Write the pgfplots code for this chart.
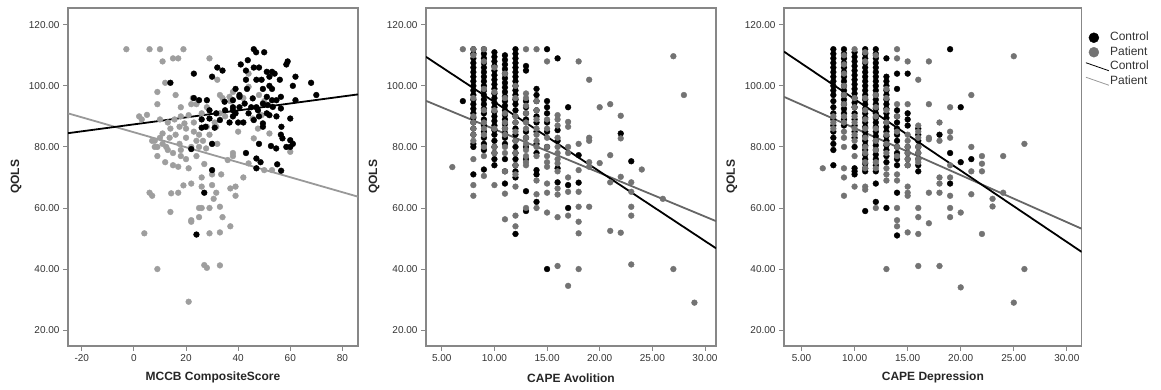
\documentclass[border=0pt]{standalone}
\usepackage{fontspec}
\setmainfont{Liberation Sans}
\usepackage{pgfplots}
\pgfplotsset{compat=1.18}
\definecolor{frame}{HTML}{878787}
\definecolor{ctl}{HTML}{000000}
\definecolor{patA}{HTML}{9E9E9E}
\definecolor{patB}{HTML}{737373}
\definecolor{lineA}{HTML}{999999}
\definecolor{lineB}{HTML}{666666}
\definecolor{tlab}{HTML}{333333}
\pgfplotsset{
  panel/.style={
    scale only axis, height=338pt,
    ymin=14.8, ymax=125.5,
    axis line style={draw=frame, line width=1.3pt},
    tick style={draw=frame, line width=0.9pt},
    tick align=outside, major tick length=5pt,
    xtick pos=bottom, ytick pos=left,
    ytick={20,40,60,80,100,120},
    yticklabels={20.00,40.00,60.00,80.00,100.00,120.00},
    ticklabel style={font=\fontsize{10}{12}\selectfont, text=tlab},
    ylabel={QOLS},
    label style={font=\bfseries\fontsize{12}{14}\selectfont, text=black!85},
    xlabel style={at={(axis description cs:0.5,-0.094)}, anchor=center},
    clip=true,
  },
  ctlmarks/.style={only marks, mark=*, mark size=2.9pt, color=ctl, mark options={solid, draw=ctl, fill=ctl, line width=0.4pt}},
  patAmarks/.style={only marks, mark=*, mark size=2.9pt, color=patA, mark options={solid, draw=patA, fill=patA, line width=0.4pt}},
  patBmarks/.style={only marks, mark=*, mark size=2.9pt, color=patB, mark options={solid, draw=patB, fill=patB, line width=0.4pt}},
}
\begin{document}
\begin{tikzpicture}
\useasboundingbox (0,0) rectangle (1161pt,390pt);
% ---------------- Panel 1 ----------------
\begin{axis}[panel, at={(68pt,44pt)}, anchor=south west, width=290pt,
  xmin=-25.3, xmax=86,
  xtick={-20,0,20,40,60,80}, xticklabels={-20,0,20,40,60,80},
  xlabel={MCCB CompositeScore},
  ylabel style={at={(axis description cs:-0.179,0.5)}, anchor=center}]
\addplot[patAmarks] coordinates {
(-2.9,112) (6,112) (10,112) (15,109) (17,109) (19,112) (11,108) (12,101) (29,109) (9,98) (9,94) (16,97) (18,93) (2,90) (3,89) (5,90.5) (10,89) (13,88) (15.6,89) (22,94) (24,94) (26,91) (28,93) (32,102) (33,97) (17.5,86.6) (19.4,87.7) (21,90.4) (23,85) (25,84) (28,86.6) (31.6,86.6) (7,82) (8,80) (10,83) (11,81) (12.4,80) (13.7,83) (15,78) (17.5,81) (18,79) (20,83) (22,80) (24,82) (26.5,82) (30,81) (32,81) (9,77) (12,75) (15,74) (17,73.5) (18,77) (21,73) (27,74.4) (30,71) (33.5,71) (36,75.7) (38,77) (42,70) (44,74.6) (46,82.8) (37,66.4) (39,67) (39,64) (26,70) (26,67) (30,67.5) (31.6,65) (30.6,63) (14.3,64.8) (17,65) (19,67.4) (22,68) (25,60) (26,60) (29,60) (33,60.4) (34,57) (25,57) (22,55.5) (22,56) (14,58.7) (37,54) (33,52) (29,51.7) (4,51.7) (6,65) (7,64) (9,40) (27,41.3) (28,40.4) (33,41.2) (21,29.3) (47.6,86) (45.6,89.3) (50,95) (52,84.4) (60,78.4) (53,72.4) (50,72.4) (44,104) (44,99.7) (33,91) (37,95) (22.6,96) (38,78) (27.7,79.5) (11,84.4) (9,80) (36.7,96.4) (49,90.4) (8,82) (14,86) (16,84) (20,86) (23,88) (18,90) (13,79) (20,76) (24,77) (25,80) (29,84) (31,88) (35,90) (40,85) (42,96) (48,97) (38,98) (34,96)
};
\addplot[ctlmarks] coordinates {
(23,104) (14,101) (23,96) (25,95.3) (28,95.3) (26,89) (27.5,86.6) (26,86.3) (29,92) (30,103) (32,106) (34,105) (30,81) (30,72.4) (27,65) (24,51.3) (22,79.3) (35,92) (36.7,88) (38,92) (39,99) (40.5,96.4) (41,107) (43.7,108.4) (43,105) (43,102) (43.4,99) (46,112) (46.9,111) (46,106) (48,106) (50,111) (47,102) (49,102) (49.5,99) (51,104.6) (53,104.6) (54,104) (52,103) (56,102) (58.5,107) (59,108) (62,103) (61,100) (68,101) (70,97) (62,95.3) (60,89.3) (56.4,96.4) (54.7,95.3) (53,99) (51,96.4) (56.4,92.6) (53.3,93.1) (51.4,93.7) (49.5,94.2) (47,93) (45,93) (42.5,94.2) (40.5,93) (38,93) (39,91) (42,88) (40,88) (38,90) (44,91) (46,88.8) (48,90) (51,91) (49.5,86.6) (49.5,87.7) (52,90.4) (54.7,90) (56.4,84) (56.6,86.6) (57,82.8) (58.5,80) (60,82.2) (61,81) (60,80) (54.6,79.5) (52.6,80.3) (48,81) (43,78) (47,76.2) (48.6,75) (47,73) (55,74.3) (56.5,72.2) (29,89.3) (31.6,91) (33,88.8) (31,86.3) (34.8,94.8) (38,95.3) (40.5,97) (45.6,95.9) (52,100) (47.6,92) (53,95.3)
};
\addplot[lineA, line width=1.8pt] coordinates {(-25.3,91.0) (86,63.7)};
\addplot[ctl, line width=1.8pt] coordinates {(-25.3,84.5) (86,97.2)};
\end{axis}
% ---------------- Panel 2 ----------------
\begin{axis}[panel, at={(426pt,44pt)}, anchor=south west, width=290pt,
  xmin=3.5, xmax=31.05,
  xtick={5,10,15,20,25,30}, xticklabels={5.00,10.00,15.00,20.00,25.00,30.00},
  xlabel={CAPE Avolition},
  ylabel style={at={(axis description cs:-0.179,0.5)}, anchor=center}]
\addplot[ctlmarks] coordinates {
(7,95)
(8,112) (8,110.5) (8,109) (8,107.5) (8,106) (8,104.5) (8,103) (8,101.5) (8,100) (8,98.5) (8,97) (8,95.5) (8,94) (8,92.5) (8,91) (8,89.5) (8,88) (8,86) (8,84) (8,81) (8,80) (8,71)
(9,112) (9,110.5) (9,109) (9,107.5) (9,106) (9,104.5) (9,103) (9,101.5) (9,100) (9,98.5) (9,97) (9,95.5) (9,94) (9,92.5) (9,91) (9,89) (9,87) (9,85) (9,83) (9,81) (9,79) (9,72.6)
(10,111) (10,109.5) (10,108) (10,106.5) (10,105) (10,103.5) (10,102) (10,100.5) (10,99) (10,97.5) (10,96) (10,94.5) (10,93) (10,91.5) (10,90) (10,88.5) (10,87) (10,85.5) (10,84) (10,82) (10,80) (10,78) (10,76) (10,74)
(11,110) (11,108.5) (11,107) (11,105.5) (11,104) (11,102.5) (11,101) (11,99.5) (11,98) (11,96.5) (11,95) (11,93.5) (11,92) (11,90.5) (11,89) (11,87.5) (11,86) (11,84.5) (11,83) (11,81) (11,76) (11,72) (11,68)
(12,112) (12,110.5) (12,109) (12,107.5) (12,106) (12,104.5) (12,103) (12,101.5) (12,100) (12,98.5) (12,97) (12,95.5) (12,94) (12,92) (12,90) (12,88) (12,86) (12,84) (12,82) (12,80) (12,78) (12,76) (12,74) (12,72) (12,70) (12,51.5)
(13,106.5) (13,105) (13,95) (13,93) (13,91) (13,89) (13,85) (13,83) (13,80) (13,76) (13,65.5) (13,59)
(14,99) (14,97) (14,95) (14,92) (14,90) (14,88) (14,85) (14,81) (14,78) (14,72.4) (14,71) (14,62)
(15,112) (15,95) (15,93) (15,91) (15,88) (15,85) (15,80) (15,40)
(16,109) (16,85.5) (16,82) (16,73) (16,68.4)
(17,93) (17,67.5) (17,60)
(18,77.3) (18,68.3)
(22,84.4) (23,75.3)
};
\addplot[patBmarks] coordinates {
(6,73.4) (7,112)
(8,112) (8,110) (8,96) (8,90) (8,88) (8,86) (8,84) (8,82) (8,76) (8,67.5) (8,64)
(9,112) (9,108) (9,99) (9,92) (9,88) (9,86) (9,84) (9,80) (9,77) (9,70.5)
(10,106) (10,98) (10,92) (10,86) (10,80) (10,78) (10,67.5)
(11,104) (11,96) (11,91) (11,88) (11,86) (11,84) (11,80) (11,78) (11,72) (11,64.7) (11,56.3)
(12,100) (12,96) (12,90) (12,88) (12,85) (12,82) (12,78) (12,74) (12,71) (12,67) (12,57.5) (12,54)
(13,112) (13,97.5) (13,96) (13,93.5) (13,91) (13,88) (13,86) (13,83) (13,81) (13,79) (13,77) (13,75) (13,74) (13,60)
(14,112) (14,95) (14,92) (14,89) (14,86) (14,84) (14,82) (14,80) (14,77) (14,69) (14,64.5) (14,60)
(15,108) (15,89) (15,86) (15,83) (15,80) (15,77) (15,75) (15,73.5) (15,68) (15,65) (15,58.5)
(16,90.4) (16,89) (16,87) (16,83) (16,80) (16,78) (16,76) (16,74.6) (16,72) (16,66.4) (16,64.4) (16,57) (16,41)
(17,88.2) (17,86.6) (17,80) (17,78) (17,70) (17,65.3) (17,57.5) (17,34.5)
(18,108) (18,81) (18,72.4) (18,65.3) (18,60.4) (18,55.5) (18,51.7) (18,40)
(19,102) (19,83) (19,82) (19,75) (19,73.5) (19,60.4)
(20,93) (20,74.7)
(21,94) (21,77.3) (21,68.4) (21,52.5)
(22,90.2) (22,82.8) (22,70.2) (22,51.9)
(23,68.4) (23,65.3) (23,60.4) (23,57.5) (23,41.5)
(24,72.6) (26,63) (27,109.7) (27,40) (28,97) (29,29)
};
\addplot[lineB, line width=1.8pt] coordinates {(3.5,95.1) (31.05,55.7)};
\addplot[ctl, line width=1.8pt] coordinates {(3.5,109.5) (31.05,46.8)};
\end{axis}
% ---------------- Panel 3 ----------------
\begin{axis}[panel, at={(784pt,44pt)}, anchor=south west, width=297.7pt,
  xmin=3.35, xmax=31.4,
  xtick={5,10,15,20,25,30}, xticklabels={5.00,10.00,15.00,20.00,25.00,30.00},
  xlabel={CAPE Depression},
  ylabel style={at={(axis description cs:-0.175,0.5)}, anchor=center},
  legend style={at={(axis description cs:1.012,0.932)}, anchor=north west,
    draw=none, fill=none, font=\fontsize{12}{13}\selectfont, text=tlab,
    row sep=1.4pt, inner sep=0pt, nodes={inner sep=0.8pt, text height=9pt, text depth=2.5pt}},
  legend cell align=left]
\addlegendimage{legend image code/.code={\fill[ctl] (8pt,0pt) circle (5pt);}}
\addlegendentry{Control}
\addlegendimage{legend image code/.code={\fill[patB] (8pt,0pt) circle (5pt);}}
\addlegendentry{Patient}
\addlegendimage{legend image code/.code={\draw[ctl, line width=0.8pt] (0pt,4pt) -- (23pt,-4pt);}}
\addlegendentry{Control}
\addlegendimage{legend image code/.code={\draw[lineA, line width=0.8pt] (0pt,4pt) -- (23pt,-4pt);}}
\addlegendentry{Patient}
\addplot[ctlmarks, forget plot] coordinates {
(8,112) (8,110.5) (8,109) (8,107.5) (8,106) (8,104.5) (8,103) (8,101.5) (8,100) (8,98.5) (8,97) (8,95) (8,93) (8,91) (8,89) (8,87) (8,85) (8,83) (8,81) (8,79) (8,74)
(9,112) (9,110.5) (9,109) (9,107.5) (9,106) (9,104.5) (9,103) (9,101.5) (9,100) (9,98.5) (9,97) (9,95.5) (9,94) (9,92.5) (9,91) (9,89) (9,87)
(10,111) (10,109.5) (10,108) (10,106.5) (10,105) (10,103.5) (10,102) (10,100.5) (10,99) (10,97.5) (10,96) (10,94.5) (10,93) (10,91) (10,89) (10,87) (10,85) (10,83) (10,80) (10,73) (10,72) (10,71)
(11,112) (11,110.5) (11,109) (11,107.5) (11,106) (11,104.5) (11,103) (11,101.5) (11,100) (11,98.5) (11,97) (11,95.5) (11,94) (11,92.5) (11,91) (11,89.5) (11,88) (11,86.5) (11,85) (11,83.5) (11,82) (11,80.5) (11,79) (11,77.5) (11,76) (11,74.5) (11,73) (11,72) (11,59)
(12,112) (12,110.5) (12,109) (12,107.5) (12,106) (12,104.5) (12,103) (12,101.5) (12,100) (12,98.5) (12,97) (12,95.5) (12,94) (12,92.5) (12,91) (12,89.5) (12,88) (12,86.5) (12,85) (12,83.5) (12,82) (12,80.5) (12,79) (12,77.5) (12,76) (12,74) (12,72) (12,68) (12,62)
(13,109) (13,103) (13,101.5) (13,100) (13,98.5) (13,97) (13,95.5) (13,94) (13,92.5) (13,91) (13,89.5) (13,88) (13,86.5) (13,85) (13,83.5) (13,82) (13,80.5) (13,79) (13,77) (13,75) (13,60)
(14,104) (14,99) (14,92) (14,90) (14,88) (14,86) (14,84) (14,82) (14,80) (14,78) (14,76) (14,74) (14,65) (14,51)
(15,104) (15,91) (15,89) (15,87) (15,80) (15,78) (15,76) (15,74)
(16,86) (16,84) (16,82) (16,80) (16,78) (16,76) (16,74) (16,72)
(18,84) (19,112) (19,78) (19,68) (20,93) (20,75) (21,76)
};
\addplot[patBmarks, forget plot] coordinates {
(7,73)
(8,90) (8,88) (8,86)
(9,110) (9,107) (9,104) (9,100) (9,97) (9,94) (9,90) (9,88) (9,85) (9,83) (9,80) (9,73) (9,70) (9,64)
(10,112) (10,96) (10,93) (10,90) (10,88) (10,86) (10,84) (10,82) (10,77) (10,67)
(11,111) (11,108) (11,96) (11,92) (11,89) (11,86) (11,83) (11,80) (11,78) (11,75) (11,73) (11,67) (11,66)
(12,110) (12,97) (12,93) (12,90) (12,86) (12,82) (12,79) (12,75) (12,73) (12,60)
(13,99) (13,96) (13,92) (13,88) (13,84) (13,81) (13,78) (13,73) (13,71) (13,69) (13,40)
(14,112) (14,109) (14,94) (14,90) (14,85) (14,80) (14,77) (14,71) (14,69) (14,60) (14,56) (14,54)
(15,108) (15,94) (15,84) (15,82) (15,80) (15,78) (15,76) (15,74) (15,67) (15,65) (15,64) (15,52)
(16,102) (16,87) (16,85) (16,83) (16,80) (16,78) (16,76) (16,75) (16,60) (16,57) (16,51.5) (16,41)
(17,108) (17,94) (17,83) (17,82.5) (17,65) (17,55)
(18,88) (18,82) (18,70) (18,68) (18,65) (18,41)
(19,93) (19,85) (19,83) (19,74) (19,70) (19,64) (19,60) (19,57)
(20,58.5) (20,34)
(21,97) (21,80) (21,72) (21,64.5)
(22,77) (22,74.5) (22,72) (22,51.5)
(23,63) (23,60.5) (24,77) (24,65) (25,109.7) (25,29) (26,81) (26,40)
};
\addplot[lineB, line width=1.8pt, forget plot] coordinates {(3.35,96.4) (31.4,53.2)};
\addplot[ctl, line width=1.8pt, forget plot] coordinates {(3.35,111.2) (31.4,45.6)};
\end{axis}
\end{tikzpicture}
\end{document}
